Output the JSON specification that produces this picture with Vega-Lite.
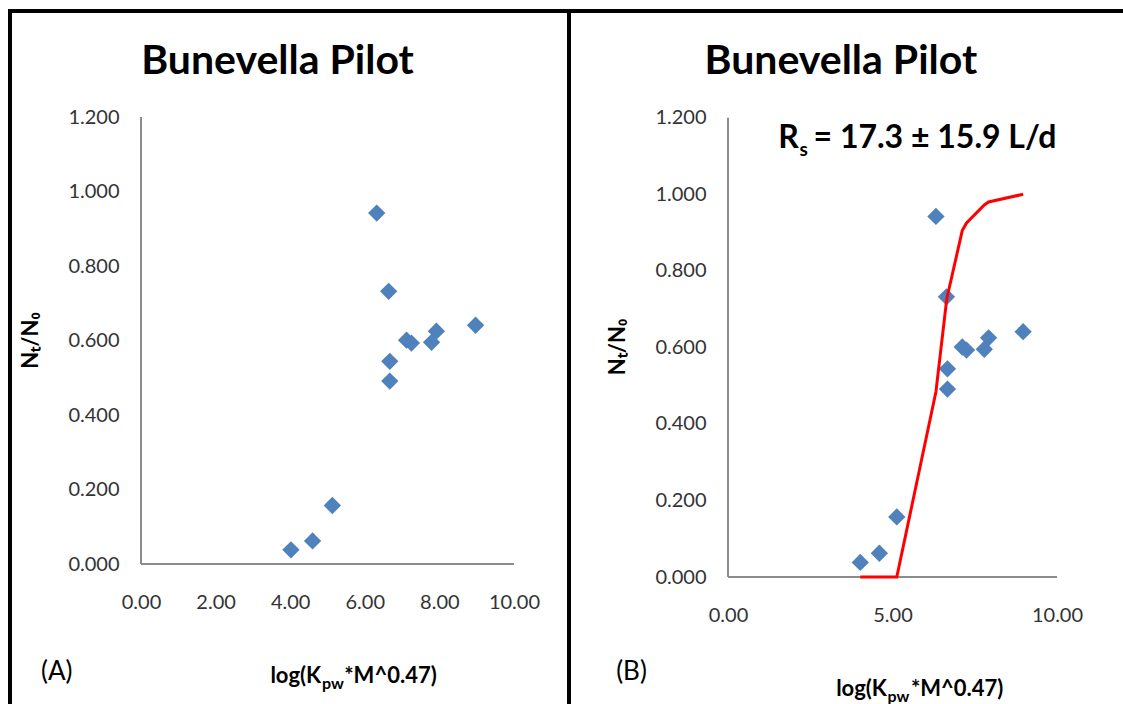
{
  "$schema": "https://vega.github.io/schema/vega-lite/v6.json",
  "bounds": "flush",
  "spacing": 0,
  "padding": {"left": 7, "top": 8, "right": 0, "bottom": 0},
  "background": "white",
  "config": {"view": {"stroke": null}, "font": "Lato"},
  "datasets": {
    "pilot": [
      {"logK": 4.02, "ratio": 0.038},
      {"logK": 4.60, "ratio": 0.062},
      {"logK": 5.13, "ratio": 0.157},
      {"logK": 6.32, "ratio": 0.942},
      {"logK": 6.64, "ratio": 0.732},
      {"logK": 6.67, "ratio": 0.544},
      {"logK": 6.67, "ratio": 0.491},
      {"logK": 7.12, "ratio": 0.601},
      {"logK": 7.25, "ratio": 0.593},
      {"logK": 7.79, "ratio": 0.595},
      {"logK": 7.92, "ratio": 0.625},
      {"logK": 8.97, "ratio": 0.641}
    ],
    "model": [
      {"logK": 4.02, "ratio": 0.0},
      {"logK": 4.60, "ratio": 0.0},
      {"logK": 5.13, "ratio": 0.0},
      {"logK": 6.32, "ratio": 0.484},
      {"logK": 6.64, "ratio": 0.72},
      {"logK": 6.67, "ratio": 0.735},
      {"logK": 7.12, "ratio": 0.905},
      {"logK": 7.25, "ratio": 0.925},
      {"logK": 7.79, "ratio": 0.972},
      {"logK": 7.92, "ratio": 0.98},
      {"logK": 8.97, "ratio": 1.0}
    ]
  },
  "hconcat": [
    {
      "width": 559,
      "height": 694,
      "resolve": {"axis": {"x": "independent", "y": "independent"}},
      "layer": [
        {
          "data": {"name": "pilot"},
          "mark": {"type": "point", "shape": "diamond", "filled": true, "size": 300, "color": "#4f81bd", "opacity": 1},
          "encoding": {
            "x": {
              "field": "logK", "type": "quantitative",
              "scale": {"domain": [-3.512, 11.475], "nice": false, "zero": false},
              "axis": {"values": [0, 2, 4, 6, 8, 10], "format": ".2f", "offset": -141, "domain": false, "ticks": false, "grid": false, "labelPadding": 28, "labelFont": "Lato", "labelFontSize": 20, "labelColor": "#333333", "labelFlush": false, "title": null}
            },
            "y": {
              "field": "ratio", "type": "quantitative",
              "scale": {"domain": [-0.3785, 1.4846], "nice": false, "zero": false},
              "axis": {"values": [0, 0.2, 0.4, 0.6, 0.8, 1.0, 1.2], "format": ".3f", "offset": -131, "domain": false, "ticks": false, "grid": false, "labelPadding": 22, "labelFont": "Lato", "labelFontSize": 20, "labelColor": "#333333", "title": null}
            }
          }
        },
        {
          "data": {"values": [{}]},
          "mark": {"type": "rule", "color": "black", "strokeWidth": 4, "strokeCap": "square"},
          "encoding": {
            "x": {"datum": -3.512, "type": "quantitative", "axis": null},
            "y": {"datum": -0.3785, "type": "quantitative", "axis": null},
            "y2": {"datum": 1.4846}
          }
        },
        {
          "data": {"values": [{}]},
          "mark": {"type": "rule", "color": "black", "strokeWidth": 4, "strokeCap": "square"},
          "encoding": {
            "x": {"datum": -3.512, "type": "quantitative", "axis": null},
            "x2": {"datum": 11.475},
            "y": {"datum": 1.4846, "type": "quantitative", "axis": null}
          }
        },
        {
          "data": {"values": [{}]},
          "mark": {"type": "rule", "color": "#8c8c8c", "strokeWidth": 2},
          "encoding": {
            "x": {"datum": 0, "type": "quantitative", "axis": null},
            "x2": {"datum": 10},
            "y": {"datum": 0, "type": "quantitative", "axis": null}
          }
        },
        {
          "data": {"values": [{}]},
          "mark": {"type": "rule", "color": "#8c8c8c", "strokeWidth": 2},
          "encoding": {
            "x": {"datum": 0, "type": "quantitative", "axis": null},
            "y": {"datum": 0, "type": "quantitative", "axis": null},
            "y2": {"datum": 1.2}
          }
        },
        {
          "data": {"values": [{}]},
          "mark": {"type": "text", "text": "Bunevella Pilot", "font": "Lato", "fontWeight": "bold", "fontSize": 41, "color": "black", "align": "center", "baseline": "alphabetic"},
          "encoding": {"x": {"datum": 3.66, "type": "quantitative", "axis": null}, "y": {"datum": 1.315, "type": "quantitative", "axis": null}}
        },
        {
          "data": {"values": [{}]},
          "mark": {"type": "text", "text": "Nₜ/N₀", "font": "Lato", "fontWeight": "bold", "fontSize": 22, "color": "black", "align": "center", "baseline": "middle", "angle": 270},
          "encoding": {"x": {"datum": -2.95, "type": "quantitative", "axis": null}, "y": {"datum": 0.6, "type": "quantitative", "axis": null}}
        },
        {
          "data": {"values": [{}]},
          "mark": {"type": "text", "text": "log(K", "font": "Lato", "fontWeight": "bold", "fontSize": 22, "color": "black", "align": "right", "baseline": "alphabetic"},
          "encoding": {"x": {"datum": 4.83, "type": "quantitative", "axis": null}, "y": {"datum": -0.319, "type": "quantitative", "axis": null}}
        },
        {
          "data": {"values": [{}]},
          "mark": {"type": "text", "text": "pw", "font": "Lato", "fontWeight": "bold", "fontSize": 16, "color": "black", "align": "left", "baseline": "alphabetic"},
          "encoding": {"x": {"datum": 4.85, "type": "quantitative", "axis": null}, "y": {"datum": -0.3356, "type": "quantitative", "axis": null}}
        },
        {
          "data": {"values": [{}]},
          "mark": {"type": "text", "text": "*M^0.47)", "font": "Lato", "fontWeight": "bold", "fontSize": 22, "color": "black", "align": "left", "baseline": "alphabetic"},
          "encoding": {"x": {"datum": 5.45, "type": "quantitative", "axis": null}, "y": {"datum": -0.319, "type": "quantitative", "axis": null}}
        },
        {
          "data": {"values": [{}]},
          "mark": {"type": "text", "text": "(A)", "font": "Lato", "fontSize": 26, "color": "black", "align": "left", "baseline": "alphabetic"},
          "encoding": {"x": {"datum": -2.68, "type": "quantitative", "axis": null}, "y": {"datum": -0.311, "type": "quantitative", "axis": null}}
        }
      ]
    },
    {
      "width": 555,
      "height": 694,
      "resolve": {"axis": {"x": "independent", "y": "independent"}},
      "layer": [
        {
          "data": {"name": "pilot"},
          "mark": {"type": "point", "shape": "diamond", "filled": true, "size": 300, "color": "#4f81bd", "opacity": 1},
          "encoding": {
            "x": {
              "field": "logK", "type": "quantitative",
              "scale": {"domain": [-4.833, 12.036], "nice": false, "zero": false},
              "axis": {"values": [0, 5, 10], "format": ".2f", "offset": -128, "domain": false, "ticks": false, "grid": false, "labelPadding": 28, "labelFont": "Lato", "labelFontSize": 20, "labelColor": "#333333", "labelFlush": false, "title": null}
            },
            "y": {
              "field": "ratio", "type": "quantitative",
              "scale": {"domain": [-0.3344, 1.4788], "nice": false, "zero": false},
              "axis": {"values": [0, 0.2, 0.4, 0.6, 0.8, 1.0, 1.2], "format": ".3f", "offset": -159, "domain": false, "ticks": false, "grid": false, "labelPadding": 22, "labelFont": "Lato", "labelFontSize": 20, "labelColor": "#333333", "title": null}
            }
          }
        },
        {
          "data": {"values": [{}]},
          "mark": {"type": "rule", "color": "black", "strokeWidth": 4, "strokeCap": "square"},
          "encoding": {
            "x": {"datum": -4.833, "type": "quantitative", "axis": null},
            "y": {"datum": -0.3344, "type": "quantitative", "axis": null},
            "y2": {"datum": 1.4788}
          }
        },
        {
          "data": {"values": [{}]},
          "mark": {"type": "rule", "color": "black", "strokeWidth": 4, "strokeCap": "square"},
          "encoding": {
            "x": {"datum": -4.833, "type": "quantitative", "axis": null},
            "x2": {"datum": 12.036},
            "y": {"datum": 1.4788, "type": "quantitative", "axis": null}
          }
        },
        {
          "data": {"values": [{}]},
          "mark": {"type": "rule", "color": "#8c8c8c", "strokeWidth": 2},
          "encoding": {
            "x": {"datum": 0, "type": "quantitative", "axis": null},
            "x2": {"datum": 10},
            "y": {"datum": 0, "type": "quantitative", "axis": null}
          }
        },
        {
          "data": {"values": [{}]},
          "mark": {"type": "rule", "color": "#8c8c8c", "strokeWidth": 2},
          "encoding": {
            "x": {"datum": 0, "type": "quantitative", "axis": null},
            "y": {"datum": 0, "type": "quantitative", "axis": null},
            "y2": {"datum": 1.2}
          }
        },
        {
          "data": {"name": "model"},
          "mark": {"type": "line", "color": "#ff0000", "strokeWidth": 3},
          "encoding": {
            "x": {"field": "logK", "type": "quantitative", "axis": null},
            "y": {"field": "ratio", "type": "quantitative", "axis": null}
          }
        },
        {
          "data": {"values": [{}]},
          "mark": {"type": "text", "text": "Bunevella Pilot", "font": "Lato", "fontWeight": "bold", "fontSize": 41, "color": "black", "align": "center", "baseline": "alphabetic"},
          "encoding": {"x": {"datum": 3.43, "type": "quantitative", "axis": null}, "y": {"datum": 1.314, "type": "quantitative", "axis": null}}
        },
        {
          "data": {"values": [{}]},
          "mark": {"type": "text", "text": "R", "font": "Lato", "fontWeight": "bold", "fontSize": 32, "color": "black", "align": "right", "baseline": "alphabetic"},
          "encoding": {"x": {"datum": 2.15, "type": "quantitative", "axis": null}, "y": {"datum": 1.121, "type": "quantitative", "axis": null}}
        },
        {
          "data": {"values": [{}]},
          "mark": {"type": "text", "text": "s", "font": "Lato", "fontWeight": "bold", "fontSize": 19, "color": "black", "align": "left", "baseline": "alphabetic"},
          "encoding": {"x": {"datum": 2.17, "type": "quantitative", "axis": null}, "y": {"datum": 1.1, "type": "quantitative", "axis": null}}
        },
        {
          "data": {"values": [{}]},
          "mark": {"type": "text", "text": "= 17.3 ± 15.9 L/d", "font": "Lato", "fontWeight": "bold", "fontSize": 32, "color": "black", "align": "left", "baseline": "alphabetic"},
          "encoding": {"x": {"datum": 2.6, "type": "quantitative", "axis": null}, "y": {"datum": 1.121, "type": "quantitative", "axis": null}}
        },
        {
          "data": {"values": [{}]},
          "mark": {"type": "text", "text": "Nₜ/N₀", "font": "Lato", "fontWeight": "bold", "fontSize": 22, "color": "black", "align": "center", "baseline": "middle", "angle": 270},
          "encoding": {"x": {"datum": -3.34, "type": "quantitative", "axis": null}, "y": {"datum": 0.601, "type": "quantitative", "axis": null}}
        },
        {
          "data": {"values": [{}]},
          "mark": {"type": "text", "text": "log(K", "font": "Lato", "fontWeight": "bold", "fontSize": 22, "color": "black", "align": "right", "baseline": "alphabetic"},
          "encoding": {"x": {"datum": 4.83, "type": "quantitative", "axis": null}, "y": {"datum": -0.311, "type": "quantitative", "axis": null}}
        },
        {
          "data": {"values": [{}]},
          "mark": {"type": "text", "text": "pw", "font": "Lato", "fontWeight": "bold", "fontSize": 16, "color": "black", "align": "left", "baseline": "alphabetic"},
          "encoding": {"x": {"datum": 4.85, "type": "quantitative", "axis": null}, "y": {"datum": -0.3266, "type": "quantitative", "axis": null}}
        },
        {
          "data": {"values": [{}]},
          "mark": {"type": "text", "text": "*M^0.47)", "font": "Lato", "fontWeight": "bold", "fontSize": 22, "color": "black", "align": "left", "baseline": "alphabetic"},
          "encoding": {"x": {"datum": 5.56, "type": "quantitative", "axis": null}, "y": {"datum": -0.311, "type": "quantitative", "axis": null}}
        },
        {
          "data": {"values": [{}]},
          "mark": {"type": "text", "text": "(B)", "font": "Lato", "fontSize": 26, "color": "black", "align": "left", "baseline": "alphabetic"},
          "encoding": {"x": {"datum": -3.4, "type": "quantitative", "axis": null}, "y": {"datum": -0.269, "type": "quantitative", "axis": null}}
        }
      ]
    }
  ]
}
